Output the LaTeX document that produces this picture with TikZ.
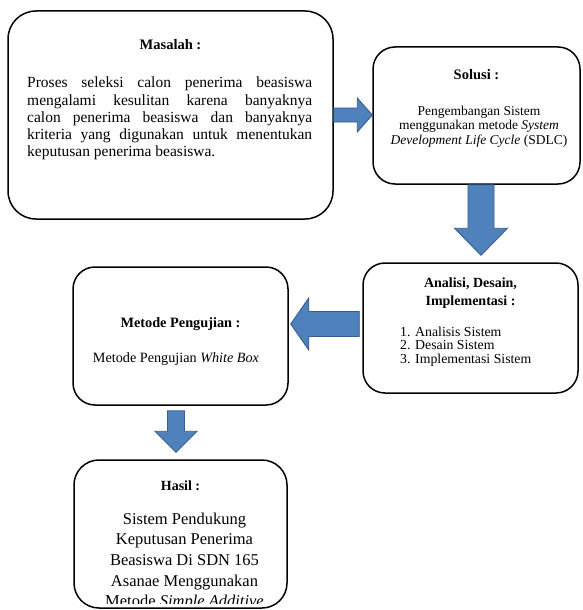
\documentclass[tikz,border=0pt]{standalone}
\usepackage{fontspec}
\setmainfont{Liberation Serif}
\usetikzlibrary{calc}

\definecolor{arrowfill}{HTML}{4F81BD}
\definecolor{arrowline}{HTML}{385D8A}

\tikzset{
  card/.style={draw=black, line width=1.5pt, rounded corners=#1, inner sep=0pt},
  txt/.style={inner sep=0pt, anchor=base},
  blockarrow/.style={fill=arrowfill, draw=arrowline, line width=0.9pt, line join=miter},
}

% block arrow from #1 (tail) to #2 (tip):
% #3 shaft half width, #4 head half width, #5 head length
\newcommand{\blockarrowpath}[5]{%
  \coordinate (ba-h) at ($(#2)!#5!(#1)$);
  \filldraw[blockarrow]
    ($(#1)!#3!90:(#2)$) -- ($(ba-h)!#3!90:(#2)$) -- ($(ba-h)!#4!90:(#2)$)
    -- (#2)
    -- ($(ba-h)!#4!-90:(#2)$) -- ($(ba-h)!#3!-90:(#2)$) -- ($(#1)!#3!-90:(#2)$)
    -- cycle;
}

\begin{document}
\begin{tikzpicture}[x=1pt, y=-1pt]
  \useasboundingbox (0,0) rectangle (582,610);
  \clip (0,0) rectangle (582,610);
  \fill[white] (0,0) rectangle (582,610);

  % boxes
  \node[card=28pt, minimum width=325pt, minimum height=208pt] (m) at (170.5,115) {};
  \node[card=22pt, minimum width=207pt, minimum height=137pt] (s) at (476.5,115.5) {};
  \node[card=22pt, minimum width=215pt, minimum height=130pt] (a) at (470.5,328) {};
  \node[card=22pt, minimum width=215pt, minimum height=138pt] (p) at (180.5,336) {};
  \node[card=25pt, minimum width=213pt, minimum height=148pt] (h) at (180.5,534) {};

  % Masalah
  \node[txt, font=\fontsize{14.5}{17}\selectfont\bfseries] (mt) at (170.5,49) {Masalah :};
  \node[txt, anchor=base west] (mb) at (27,88) {\parbox[t]{285pt}{%
    \fontsize{15.5}{17.2}\selectfont
    \spaceskip=0.25em plus 1em minus 0.05em
    Proses seleksi calon penerima beasiswa\linebreak
    mengalami kesulitan karena banyaknya\linebreak
    calon penerima beasiswa dan banyaknya\linebreak
    kriteria yang digunakan untuk menentukan\linebreak
    keputusan penerima beasiswa.}};

  % Solusi
  \node[txt, font=\fontsize{14.5}{17}\selectfont\bfseries] (st) at (476.5,79) {Solusi :};
  \node[txt] (sb) at (479,115) {\parbox[t]{200pt}{\centering
    \fontsize{13.5}{14.8}\selectfont
    Pengembangan Sistem\\
    menggunakan metode \textit{System}\\
    \textit{Development Life Cycle} (SDLC)}};

  % Analisi, Desain, Implementasi
  \node[txt] (at) at (470.5,287) {\parbox[t]{200pt}{\centering
    \fontsize{14}{18.5}\selectfont\bfseries
    Analisi, Desain,\\ Implementasi :}};
  \node[txt, anchor=base west] (al) at (400,336) {\parbox[t]{170pt}{%
    \fontsize{13.8}{13.6}\selectfont
    \makebox[15pt][l]{1.}Analisis Sistem\\
    \makebox[15pt][l]{2.}Desain Sistem\\
    \makebox[15pt][l]{3.}Implementasi Sistem}};

  % Metode Pengujian
  \node[txt, font=\fontsize{14.3}{17}\selectfont\bfseries] (pt) at (180.5,327) {Metode Pengujian :};
  \node[txt, font=\fontsize{14.2}{17}\selectfont] (pb) at (176,362) {Metode Pengujian \textit{White Box}};

  % Hasil
  \node[txt, font=\fontsize{14}{17}\selectfont\bfseries] (ht) at (180.5,490) {Hasil :};
  \begin{scope}
    \clip (74,460) rectangle (287,603);
    \node[txt] (hb) at (184.5,524) {\parbox[t]{205pt}{\centering
      \fontsize{16.5}{20.7}\selectfont
      Sistem Pendukung\\
      Keputusan Penerima\\
      Beasiswa Di SDN 165\\
      Asanae Menggunakan\\
      Metode \textit{Simple Additive}}};
  \end{scope}

  % connectors
  \coordinate (c1a) at (m.east |- 0,115);
  \coordinate (c1b) at (s.west |- 0,115);
  \blockarrowpath{c1a}{c1b}{7pt}{17pt}{15pt}

  \coordinate (c2a) at (s.south -| 481,0);
  \coordinate (c2b) at ($(a.north -| 481,0)+(0,-7)$);
  \blockarrowpath{c2a}{c2b}{13pt}{26.5pt}{27pt}

  \coordinate (c3a) at ($(a.west |- 0,324)+(-3,0)$);
  \coordinate (c3b) at ($(p.east |- 0,324)+(2,0)$);
  \blockarrowpath{c3a}{c3b}{12.5pt}{26pt}{18pt}

  \coordinate (c4a) at ($(p.south -| 176,0)+(0,5)$);
  \coordinate (c4b) at ($(h.north -| 176,0)+(0,-7)$);
  \blockarrowpath{c4a}{c4b}{8.5pt}{21pt}{21pt}
\end{tikzpicture}
\end{document}
